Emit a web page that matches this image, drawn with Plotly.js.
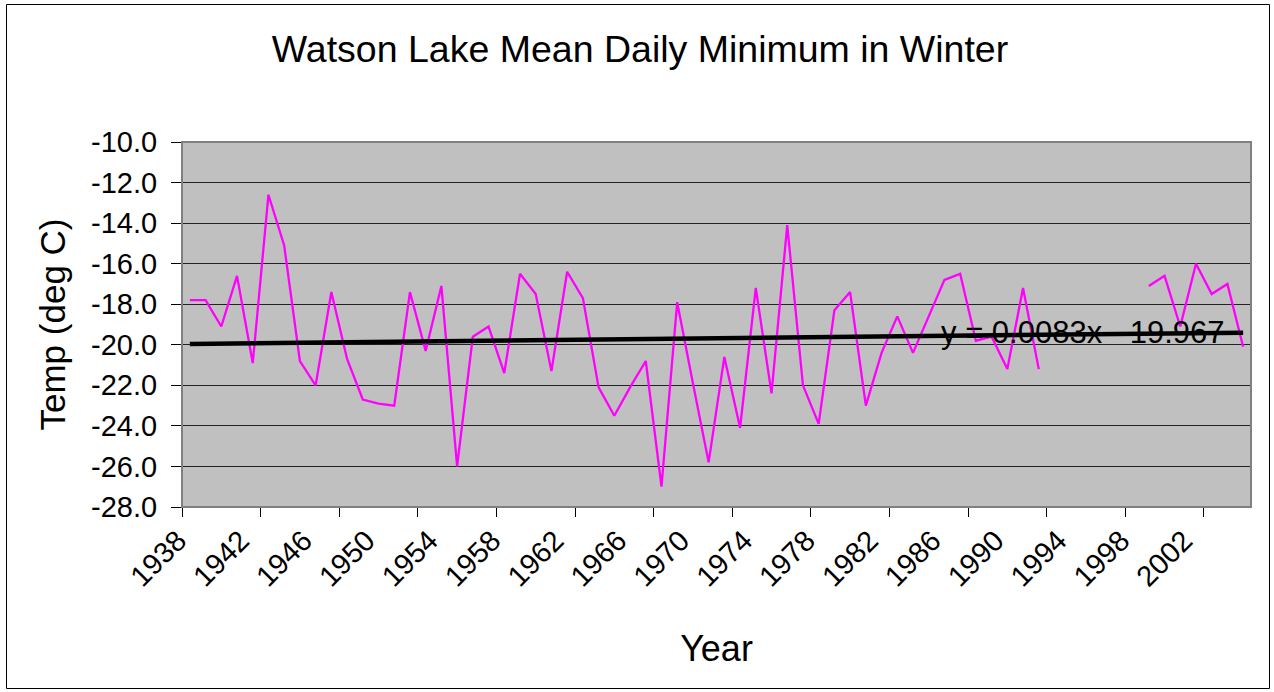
<!DOCTYPE html>
<html><head><meta charset="utf-8">
<script src="https://cdn.plot.ly/plotly-3.0.1.min.js"></script>
<style>html,body{margin:0;padding:0;background:#fff}</style>
</head><body><div id="chart" style="width:1274px;height:692px"></div>
<script>
// ---- data ----
const years = [1938,1939,1940,1941,1942,1943,1944,1945,1946,1947,1948,1949,1950,1951,1952,1953,1954,1955,1956,1957,1958,1959,1960,1961,1962,1963,1964,1965,1966,1967,1968,1969,1970,1971,1972,1973,1974,1975,1976,1977,1978,1979,1980,1981,1982,1983,1984,1985,1986,1987,1988,1989,1990,1991,1992,1993,1994,1995,1996,1997,1998,1999,2000,2001,2002,2003,2004,2005];
const minTemp = [-17.8,-17.8,-19.1,-16.6,-20.9,-12.6,-15.1,-20.8,-22.0,-17.4,-20.7,-22.7,-22.9,-23.0,-17.4,-20.3,-17.1,-26.0,-19.6,-19.1,-21.4,-16.5,-17.5,-21.3,-16.4,-17.7,-22.1,-23.5,-22.1,-20.8,-27.0,-17.9,-21.9,-25.8,-20.6,-24.1,-17.2,-22.4,-14.1,-22.0,-23.9,-18.3,-17.4,-23.0,-20.4,-18.6,-20.4,-18.6,-16.8,-16.5,-19.8,-19.6,-21.2,-17.2,-21.2,null,null,null,null,null,null,-17.1,-16.6,-19.1,-16.0,-17.5,-17.0,-20.1];
const xTickYears = [1938,1942,1946,1950,1954,1958,1962,1966,1970,1974,1978,1982,1986,1990,1994,1998,2002];
const xTickLabels = xTickYears.map(String);
const yTickValues = [-28,-26,-24,-22,-20,-18,-16,-14,-12,-10];
const yTickLabels = yTickValues.map(v => v.toFixed(1));
const trendSlope = 0.0083;
const trendIntercept = -19.967;
const trendLabel = 'y = 0.0083x - 19.967';
const chartTitle = 'Watson Lake Mean Daily Minimum in Winter';
const xTitle = 'Year';
const yTitle = 'Temp (deg C)';

// ---- derived ----
const W = 1274, H = 692;
const M = {l: 182, r: 23, t: 142, b: 185};
const pw = W - M.l - M.r, ph = H - M.t - M.b;
const xRange = [years[0] - 0.5, years[years.length - 1] + 0.5];
const catIndex = y => y - years[0] + 1;
const trendX = [years[0], years[years.length - 1]];
const trendY = trendX.map(y => trendSlope * catIndex(y) + trendIntercept);
// tick marks every 5 categories at category boundaries (Excel style)
const boundaryTicks = [];
for (let v = xRange[0]; v <= xRange[1] + 1e-9; v += 5) boundaryTicks.push(v);
// label position (centre of text), in data units
const labelX = 1994.8;
const labelY = trendSlope * catIndex(labelX) + trendIntercept - 0.02;

const FONT = 'Liberation Sans, Arial, Helvetica, sans-serif';

const traces = [
  {
    x: years, y: minTemp, type: 'scatter', mode: 'lines',
    line: {color: '#FF00FF', width: 2.3}, connectgaps: false,
    hoverinfo: 'skip', showlegend: false
  },
  {
    x: [labelX], y: [labelY], type: 'scatter', mode: 'text',
    text: [trendLabel], textposition: 'middle center',
    textfont: {family: FONT, size: 31, color: '#000'},
    hoverinfo: 'skip', showlegend: false
  },
  {
    x: trendX, y: trendY, type: 'scatter', mode: 'lines', xaxis: 'x2',
    line: {color: '#000', width: 4.5},
    hoverinfo: 'skip', showlegend: false
  }
];

const px2paperX = p => (p - M.l) / pw;
const px2paperY = p => (H - M.b - p) / ph;

const layout = {
  width: W, height: H,
  margin: M,
  paper_bgcolor: '#fff',
  plot_bgcolor: '#C0C0C0',
  font: {family: FONT, color: '#000'},
  showlegend: false,
  title: {
    text: chartTitle, font: {family: FONT, size: 37.5, color: '#000'},
    x: 640 / W, xanchor: 'center', xref: 'container',
    y: 1 - 49 / H, yanchor: 'middle', yref: 'container'
  },
  xaxis: {
    range: xRange, type: 'linear',
    tickmode: 'array', tickvals: xTickYears, ticktext: xTickLabels,
    tickangle: -45, ticks: '', tickfont: {family: FONT, size: 29, color: '#000'},
    ticklabelshift: -12, ticklabelstandoff: 4,
    showgrid: false, zeroline: false,
    showline: true, linecolor: '#000', linewidth: 1,
    title: {text: xTitle, font: {family: FONT, size: 36, color: '#000'}, standoff: 44}
  },
  xaxis2: {
    range: xRange, overlaying: 'x', anchor: 'y', side: 'bottom',
    tickmode: 'array', tickvals: boundaryTicks, ticks: 'outside', ticklen: 9,
    tickwidth: 1, tickcolor: '#000', showticklabels: false,
    showgrid: false, zeroline: false, showline: false
  },
  yaxis: {
    range: [-28, -10], tickmode: 'array', tickvals: yTickValues, ticktext: yTickLabels,
    ticks: 'outside', ticklen: 10, tickcolor: '#000',
    tickfont: {family: FONT, size: 29, color: '#000'},
    ticklabelstandoff: 8,
    showgrid: true, gridcolor: '#222', gridwidth: 1,
    zeroline: false, showline: true, linecolor: '#000', linewidth: 1,
    title: {text: yTitle, font: {family: FONT, size: 35, color: '#000'}, standoff: 14}
  },
  shapes: [
    { // grey plot-area border
      type: 'rect', xref: 'paper', yref: 'paper', x0: 0, x1: 1, y0: 0, y1: 1,
      line: {color: '#808080', width: 2}, layer: 'above'
    },
    { // outer chart frame
      type: 'rect', xref: 'paper', yref: 'paper',
      x0: px2paperX(6.5), x1: px2paperX(1269.5), y0: px2paperY(688.5), y1: px2paperY(4.5),
      line: {color: '#000', width: 1}, layer: 'above'
    }
  ]
};

Plotly.newPlot('chart', traces, layout, {staticPlot: true, displayModeBar: false});
</script>
</body></html>
